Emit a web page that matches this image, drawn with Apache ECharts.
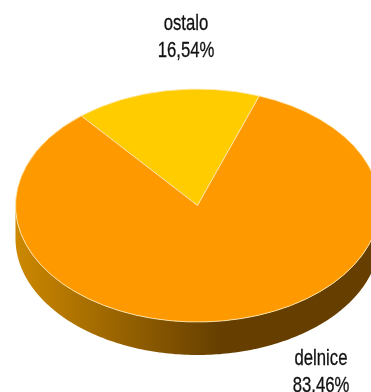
<!DOCTYPE html>
<html><head><meta charset="utf-8">
<style>html,body{margin:0;padding:0;background:#fff;overflow:hidden}#c{width:371px;height:392px}</style>
<script src="https://cdn.jsdelivr.net/npm/echarts@6/dist/echarts.min.js"></script>
</head><body><div id="c"></div>
<script>
const categories = ['ostalo', 'delnice'];
const values = [16.54, 83.46];
const sliceColors = ['#ffcc00', '#ff9900'];
const labelAnchors = [[186, 37], [321, 372]];

const cx = 197.5, cy = 205.5, rx = 182, ry = 116.5, depth = 33;
const startDeg = -39.7; // clockwise from top
const total = values.reduce((a, b) => a + b, 0);
const chart = echarts.init(document.getElementById('c'), null, {renderer: 'canvas'});
const fmt = v => v.toFixed(2).replace('.', ',') + '%';

function wall() {
  const pts = [];
  for (let i = 0; i <= 180; i++) {
    const t = i * Math.PI / 180;
    pts.push([cx + rx * Math.cos(t), cy + depth + ry * Math.sin(t)]);
  }
  for (let i = 180; i >= 0; i--) {
    const t = i * Math.PI / 180;
    pts.push([cx + rx * Math.cos(t), cy + ry * Math.sin(t)]);
  }
  return pts;
}

chart.setOption({
  animation: false,
  series: [
    {
      type: 'custom', coordinateSystem: 'none', silent: true, z: 1,
      data: [0],
      renderItem() {
        return {
          type: 'polygon',
          shape: {points: wall()},
          style: {
            fill: new echarts.graphic.LinearGradient(16, 0, 380, 0, [
              {offset: 0, color: '#cc8800'},
              {offset: 0.56, color: '#663f00'},
              {offset: 1, color: '#663f00'}
            ], true)
          }
        };
      }
    },
    {
      type: 'custom', coordinateSystem: 'none', silent: true, z: 2,
      data: values.map((v, i) => [v, i]),
      renderItem(params, api) {
        const i = api.value(1);
        let before = 0;
        for (let k = 0; k < i; k++) before += values[k];
        const a0 = (startDeg + before / total * 360 - 90) * Math.PI / 180;
        const a1 = a0 + api.value(0) / total * 2 * Math.PI;
        return {
          type: 'sector',
          originX: cx, originY: cy, scaleY: ry / rx,
          shape: {cx, cy, r: rx, r0: 0, startAngle: a0, endAngle: a1, clockwise: true},
          style: {fill: sliceColors[i], stroke: '#ffe9b0', lineWidth: 1}
        };
      }
    },
    {
      type: 'custom', coordinateSystem: 'none', silent: true, z: 3,
      data: values.map((v, i) => [v, i]),
      renderItem(params, api) {
        const i = api.value(1);
        return {
          type: 'text',
          x: labelAnchors[i][0], y: labelAnchors[i][1],
          scaleX: 0.76,
          style: {
            text: categories[i] + '\n' + fmt(api.value(0)),
            fontFamily: '"Liberation Sans",sans-serif',
            fontSize: 22, lineHeight: 27, fill: '#111',
            stroke: '#111', lineWidth: 0.3,
            align: 'center', verticalAlign: 'middle'
          }
        };
      }
    }
  ]
});
</script></body></html>
